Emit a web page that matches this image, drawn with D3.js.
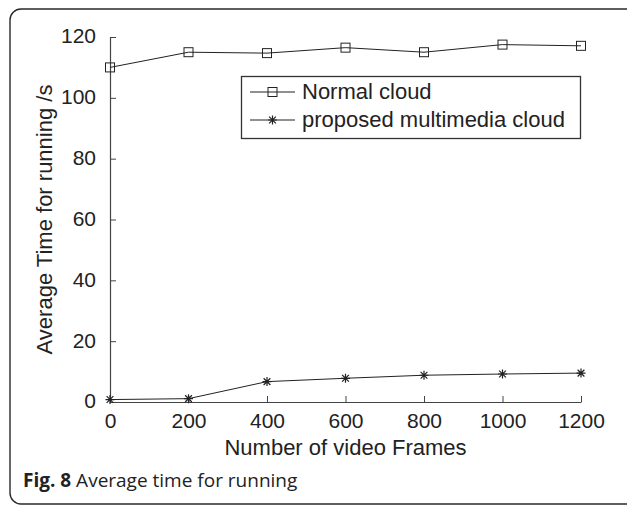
<!DOCTYPE html>
<html>
<head>
<meta charset="utf-8">
<script src="https://cdn.jsdelivr.net/npm/d3@7"></script>
<style>
  html, body { margin: 0; padding: 0; background: #fff; }
  svg { display: block; }
</style>
</head>
<body>
<script>
// Frame counts on the x axis
const frames = [0, 200, 400, 600, 800, 1000, 1200];
// Average running time (s) for each approach
const normalCloud = [110, 115, 114.7, 116.5, 115, 117.5, 117.1];
const multimediaCloud = [0.8, 1.1, 6.7, 7.8, 8.8, 9.2, 9.5];
const seriesNames = ["Normal cloud", "proposed multimedia cloud"];
const xTicks = [0, 200, 400, 600, 800, 1000, 1200];
const yTicks = [0, 20, 40, 60, 80, 100, 120];

const W = 627, H = 505;
const margin = { left: 110, right: 46, top: 37, bottom: 103 };

const svg = d3.select("body").append("svg")
  .attr("width", W).attr("height", H);

// Rounded panel border around the figure
svg.append("rect")
  .attr("x", 10).attr("y", 9)
  .attr("width", 640).attr("height", 495)
  .attr("rx", 11).attr("ry", 11)
  .attr("fill", "none").attr("stroke", "#2a2a2a").attr("stroke-width", 1.4);

const x = d3.scaleLinear().domain([0, 1200]).range([margin.left, W - margin.right]);
const y = d3.scaleLinear().domain([0, 120]).range([H - margin.bottom, margin.top]);

const font = "'Liberation Sans', Arial, Helvetica, sans-serif";
const axisColor = "#444";
const fmt = d3.format("d");

// X axis with inward ticks
const gx = svg.append("g")
  .attr("transform", `translate(0,${y(0)})`)
  .call(d3.axisBottom(x).tickValues(xTicks).tickFormat(fmt)
    .tickSizeInner(-6).tickSizeOuter(0).tickPadding(11));
// Y axis with inward ticks
const gy = svg.append("g")
  .attr("transform", `translate(${x(0)},0)`)
  .call(d3.axisLeft(y).tickValues(yTicks).tickFormat(fmt)
    .tickSizeInner(-6).tickSizeOuter(0).tickPadding(14));

[gx, gy].forEach(g => {
  g.select(".domain").attr("stroke", axisColor).attr("stroke-width", 1.2);
  g.selectAll(".tick line").attr("stroke", axisColor).attr("stroke-width", 1);
  g.selectAll(".tick text")
    .attr("font-family", font).attr("font-size", 21).attr("fill", "#222");
});
gx.selectAll(".tick text").attr("dy", "0.72em");
gy.selectAll(".tick text").attr("dy", "0.28em");

// Axis titles
svg.append("text")
  .attr("x", x(600)).attr("y", 455)
  .attr("text-anchor", "middle")
  .attr("font-family", font).attr("font-size", 22).attr("fill", "#222")
  .text("Number of video Frames");
svg.append("text")
  .attr("transform", `translate(52,${(y(0) + y(120)) / 2}) rotate(-90)`)
  .attr("text-anchor", "middle")
  .attr("font-family", font).attr("font-size", 22).attr("fill", "#222")
  .text("Average Time for running /s");

const lineColor = "#222";
const line = d3.line().x((d, i) => x(frames[i])).y(d => y(d));

function squareMarker(g, cx, cy) {
  g.append("rect")
    .attr("x", cx - 4.5).attr("y", cy - 4.5)
    .attr("width", 9).attr("height", 9)
    .attr("fill", "none").attr("stroke", lineColor).attr("stroke-width", 1);
}
function starMarker(g, cx, cy) {
  const r = 4.5;
  const p = d3.path();
  p.moveTo(cx - r, cy); p.lineTo(cx + r, cy);
  p.moveTo(cx, cy - r); p.lineTo(cx, cy + r);
  const d = r * 0.75;
  p.moveTo(cx - d, cy - d); p.lineTo(cx + d, cy + d);
  p.moveTo(cx - d, cy + d); p.lineTo(cx + d, cy - d);
  g.append("path").attr("d", p.toString())
    .attr("stroke", lineColor).attr("stroke-width", 1.2).attr("fill", "none");
}

// Normal cloud series
svg.append("path").datum(normalCloud)
  .attr("d", line).attr("fill", "none")
  .attr("stroke", lineColor).attr("stroke-width", 1);
const gN = svg.append("g");
normalCloud.forEach((v, i) => squareMarker(gN, x(frames[i]), y(v)));

// Proposed multimedia cloud series
svg.append("path").datum(multimediaCloud)
  .attr("d", line).attr("fill", "none")
  .attr("stroke", lineColor).attr("stroke-width", 1);
const gM = svg.append("g");
multimediaCloud.forEach((v, i) => starMarker(gM, x(frames[i]), y(v)));

// Legend
const lg = svg.append("g");
lg.append("rect")
  .attr("x", 241.5).attr("y", 76.5).attr("width", 339).attr("height", 62)
  .attr("fill", "#fff").attr("stroke", "#333").attr("stroke-width", 1.3);
const rows = [92, 120];
rows.forEach((ry, i) => {
  lg.append("line").attr("x1", 250).attr("x2", 295).attr("y1", ry).attr("y2", ry)
    .attr("stroke", lineColor).attr("stroke-width", 1);
  if (i === 0) squareMarker(lg, 272.5, ry); else starMarker(lg, 272.5, ry);
  lg.append("text")
    .attr("x", 302).attr("y", ry).attr("dy", "0.34em")
    .attr("font-family", font).attr("font-size", 22).attr("fill", "#222")
    .text(seriesNames[i]);
});

// Figure caption
const cap = svg.append("text")
  .attr("x", 23).attr("y", 487)
  .attr("font-family", "'Open Sans', 'Noto Sans', sans-serif").attr("font-size", 19).attr("fill", "#222");
cap.append("tspan").attr("font-weight", "bold").text("Fig. 8");
cap.append("tspan").text(" Average time for running");
</script>
</body>
</html>
